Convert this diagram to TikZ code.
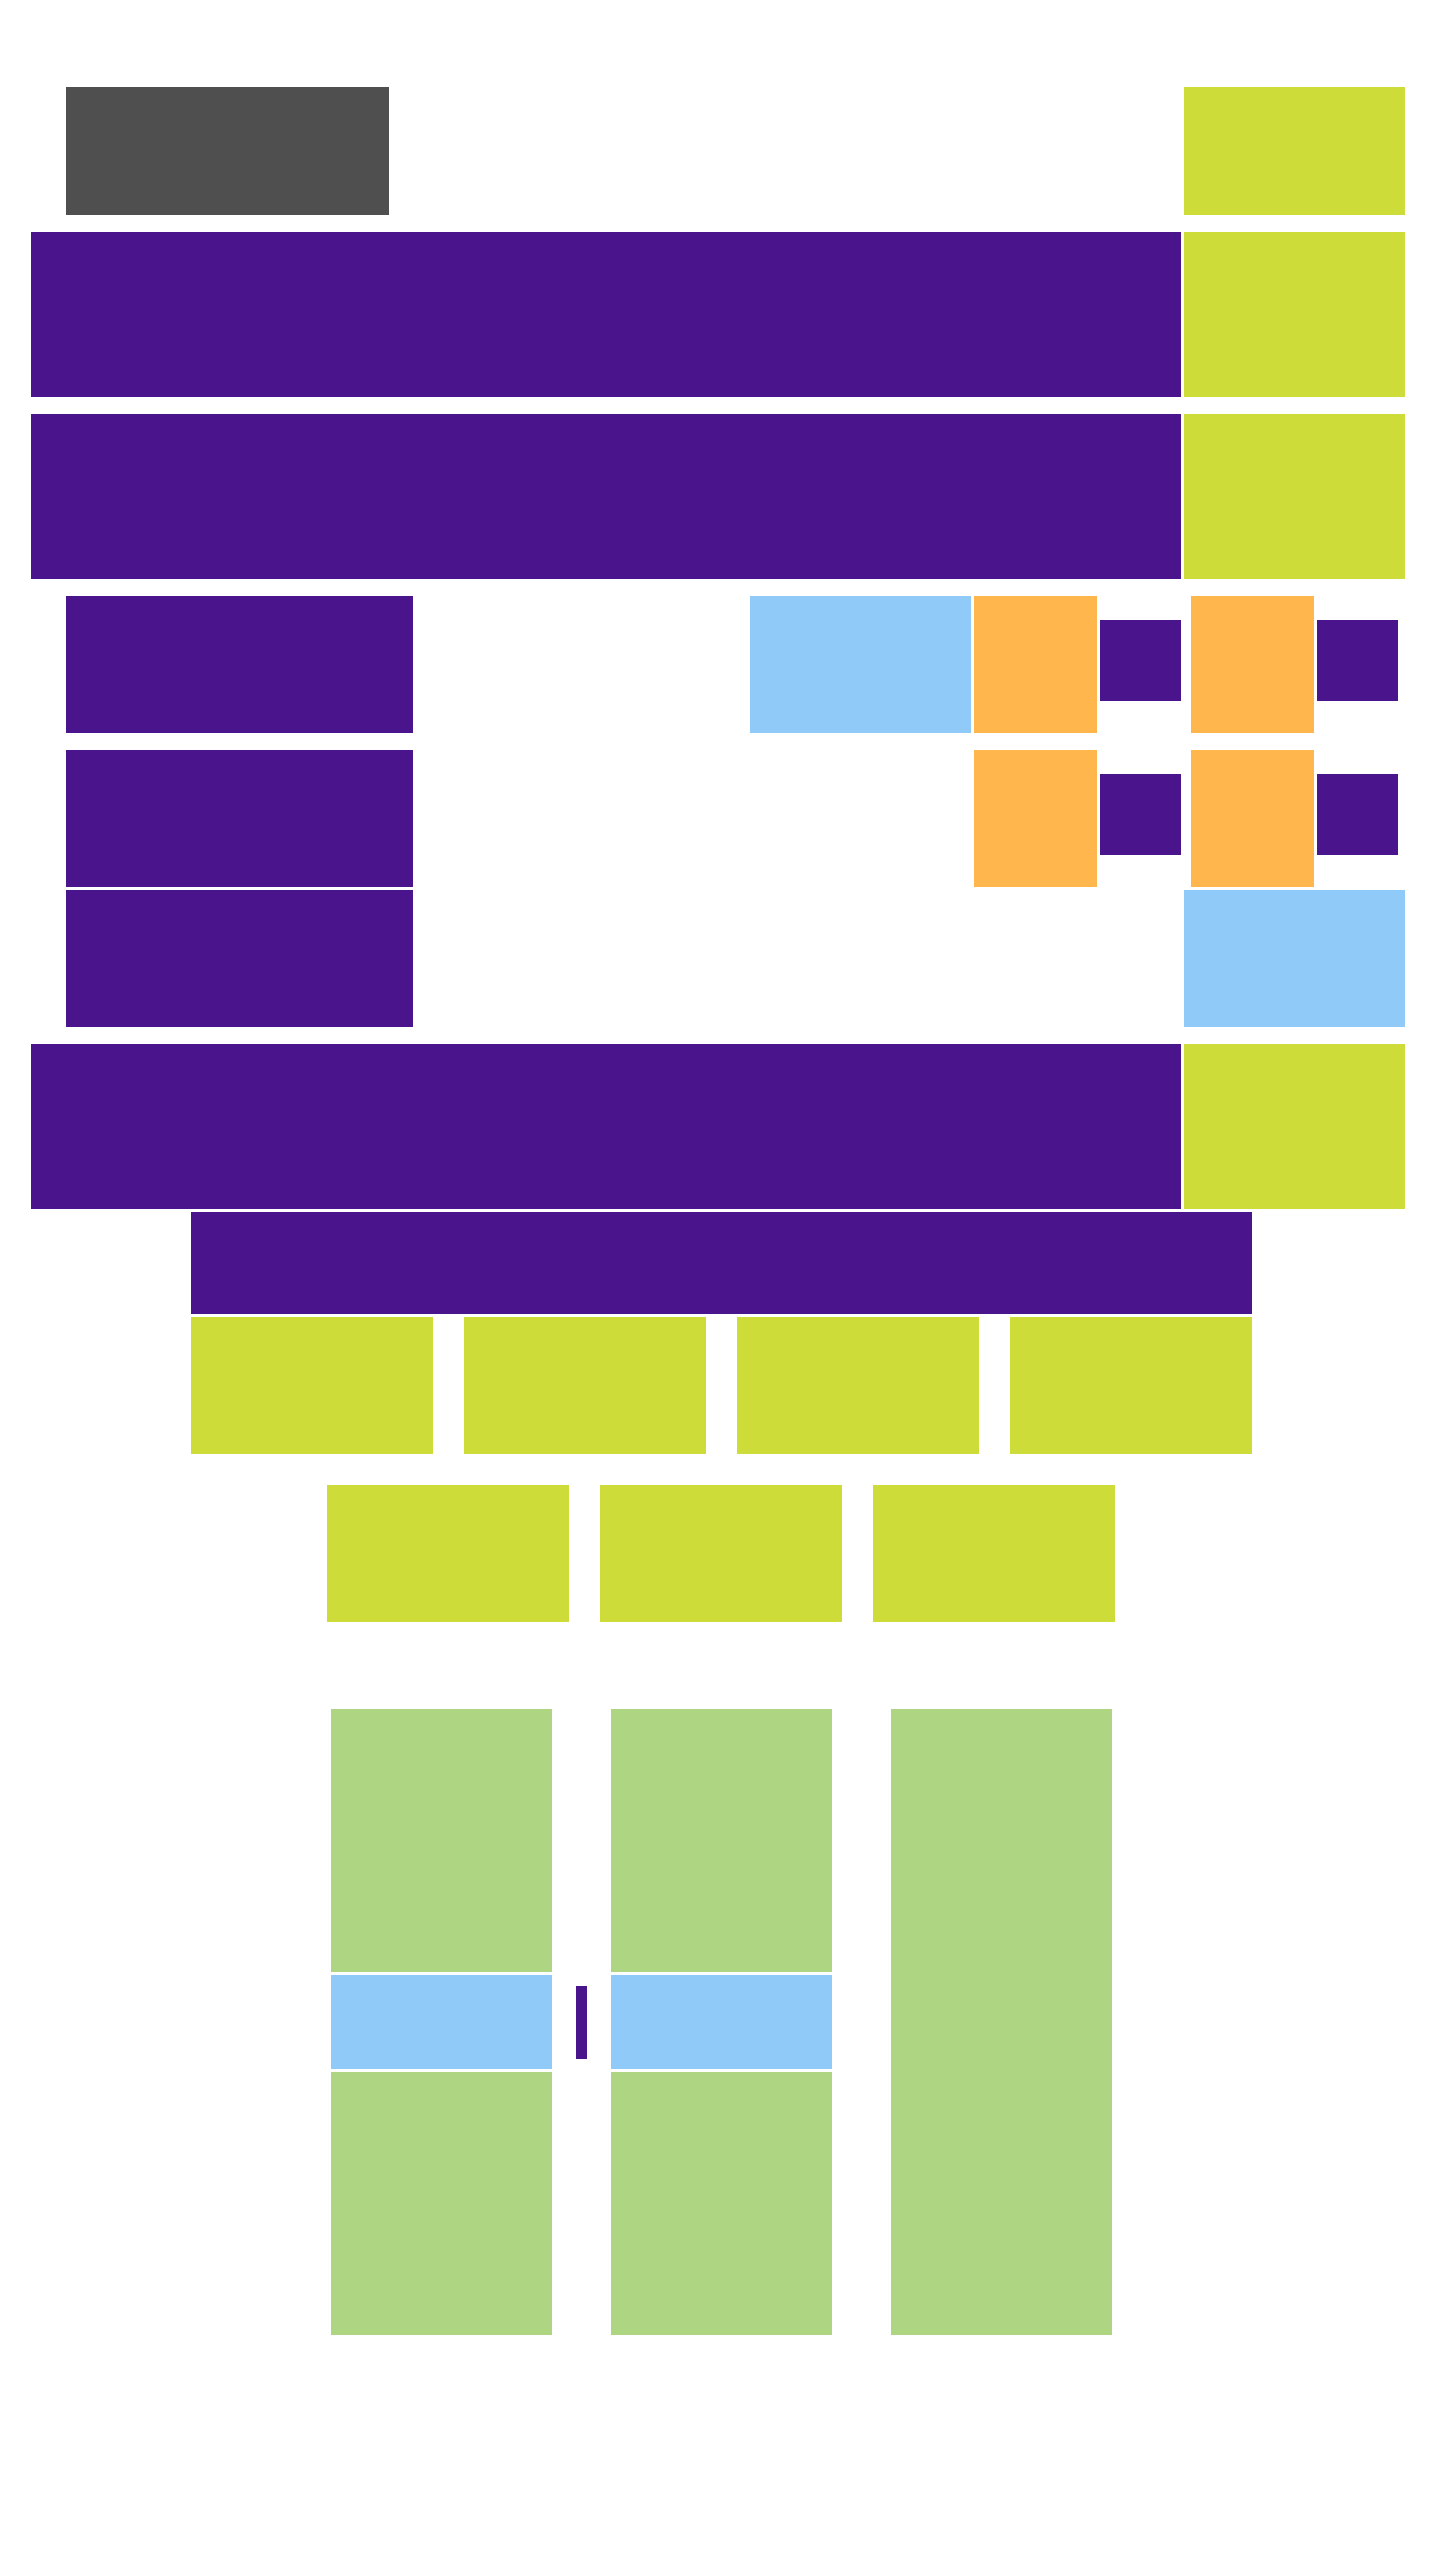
\documentclass[tikz,border=0pt]{standalone}
\usepackage{tikz}
\definecolor{cpurple}{HTML}{4A148C}
\definecolor{clime}{HTML}{CDDC39}
\definecolor{corange}{HTML}{FFB74D}
\definecolor{cblue}{HTML}{90CAF9}
\definecolor{cgreen}{HTML}{AED581}
\definecolor{cgray}{HTML}{4F4F4F}
\newcommand\bx[6]{\path[fill=#6] (#2,#3) rectangle (#4,#5) coordinate (#1);}
\begin{document}
\begin{tikzpicture}[x=1pt,y=-1pt]
\useasboundingbox[fill=white] (0,0) rectangle (1440,2560);
% top header
\bx{gray}{66}{87}{389}{215}{cgray}
\bx{limeA}{1184}{87}{1405}{215}{clime}
% bands
\bx{purA}{31}{232}{1181}{397}{cpurple}
\bx{limeB}{1184}{232}{1405}{397}{clime}
\bx{purB}{31}{414}{1181}{579}{cpurple}
\bx{limeC}{1184}{414}{1405}{579}{clime}
% row 1
\bx{pL1}{66}{596}{413}{733}{cpurple}
\bx{blue1}{750}{596}{971}{733}{cblue}
\bx{or1}{974}{596}{1097}{733}{corange}
\bx{sp1}{1100}{620}{1181}{701}{cpurple}
\bx{or2}{1191}{596}{1314}{733}{corange}
\bx{sp2}{1317}{620}{1398}{701}{cpurple}
% row 2
\bx{pL2}{66}{750}{413}{887}{cpurple}
\bx{or3}{974}{750}{1097}{887}{corange}
\bx{sp3}{1100}{774}{1181}{855}{cpurple}
\bx{or4}{1191}{750}{1314}{887}{corange}
\bx{sp4}{1317}{774}{1398}{855}{cpurple}
% row 3
\bx{pL3}{66}{890}{413}{1027}{cpurple}
\bx{blue2}{1184}{890}{1405}{1027}{cblue}
% band 3
\bx{purC}{31}{1044}{1181}{1209}{cpurple}
\bx{limeD}{1184}{1044}{1405}{1209}{clime}
% wide purple
\bx{purW}{191}{1212}{1252}{1314}{cpurple}
% lime row of four
\bx{l1}{191}{1317}{433}{1454}{clime}
\bx{l2}{464}{1317}{706}{1454}{clime}
\bx{l3}{737}{1317}{979}{1454}{clime}
\bx{l4}{1010}{1317}{1252}{1454}{clime}
% lime row of three
\bx{m1}{327}{1485}{569}{1622}{clime}
\bx{m2}{600}{1485}{842}{1622}{clime}
\bx{m3}{873}{1485}{1115}{1622}{clime}
% bottom columns
\bx{g1a}{331}{1709}{552}{1972}{cgreen}
\bx{b1}{331}{1975}{552}{2069}{cblue}
\bx{g1b}{331}{2072}{552}{2335}{cgreen}
\bx{g2a}{611}{1709}{832}{1972}{cgreen}
\bx{b2}{611}{1975}{832}{2069}{cblue}
\bx{g2b}{611}{2072}{832}{2335}{cgreen}
\bx{g3}{891}{1709}{1112}{2335}{cgreen}
\bx{spx}{576}{1986}{587}{2059}{cpurple}
\end{tikzpicture}
\end{document}
